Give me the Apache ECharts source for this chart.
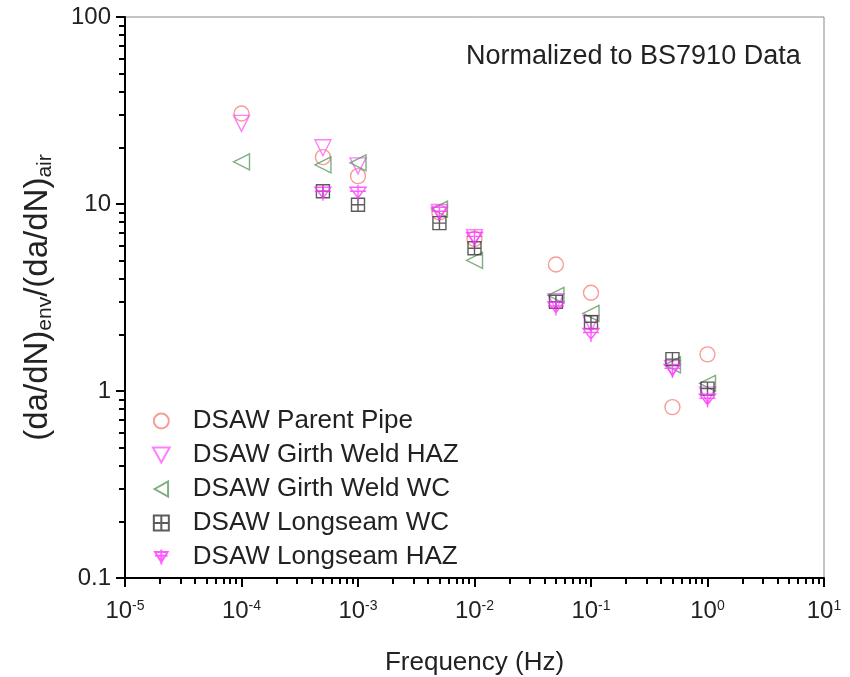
<!DOCTYPE html>
<html>
<head>
<meta charset="utf-8">
<script src="https://cdn.jsdelivr.net/npm/echarts@6/dist/echarts.min.js"></script>
<style>html,body{margin:0;padding:0;background:#fff;}#c{width:850px;height:677px;}</style>
</head>
<body>
<div id="c"></div>
<script>
// ---- data ----
const seriesNames = ['DSAW Parent Pipe', 'DSAW Girth Weld HAZ', 'DSAW Girth Weld WC', 'DSAW Longseam WC', 'DSAW Longseam HAZ'];
const parentPipeFreq = [1e-4, 5e-4, 1e-3, 5e-3, 1e-2, 5e-2, 1e-1, 5e-1, 1];
const parentPipeVal  = [30.5, 17.8, 14.1, 9.0, 6.5, 4.75, 3.35, 0.82, 1.57];
const girthHazFreq = [1e-4, 5e-4, 1e-3, 5e-3, 1e-2, 5e-2, 1e-1, 5e-1, 1];
const girthHazVal  = [27.0, 20.0, 16.0, 9.0, 6.6, 3.0, 2.3, 1.32, 0.95];
const girthWcFreq = [1e-4, 5e-4, 1e-3, 5e-3, 1e-2, 5e-2, 1e-1, 5e-1, 1];
const girthWcVal  = [16.8, 16.2, 16.6, 9.4, 5.0, 3.25, 2.6, 1.38, 1.1];
const longWcFreq = [5e-4, 1e-3, 5e-3, 1e-2, 5e-2, 1e-1, 5e-1, 1];
const longWcVal  = [11.7, 9.9, 7.9, 5.8, 3.0, 2.33, 1.48, 1.03];
const longHazFreq = [5e-4, 1e-3, 5e-3, 1e-2, 5e-2, 1e-1, 5e-1, 1];
const longHazVal  = [11.5, 11.5, 9.0, 6.6, 2.8, 2.02, 1.3, 0.9];
const xMin = 1e-5, xMax = 10, yMin = 0.1, yMax = 100;

function pairs(f, v) { return f.map((x, i) => [x, v[i]]); }

const FONT = '"Liberation Sans", Arial, sans-serif';
const symCircle = 'circle';
const symDown = 'path://M0,0 L10,0 L5,9 Z';
const symLeft = 'path://M0,5 L9,0 L9,10 Z';
const symBoxPlus = 'path://M0,0 L10,0 L10,10 L0,10 Z M5,0 L5,10 M0,5 L10,5';
const symTriPlus = 'path://M0,2 L10,2 L5,10 Z M5,0 L5,12 M0,5 L10,5';

const styles = [
  { sym: symCircle, color: '#f2857c', size: 15 },
  { sym: symDown, color: '#ff5cff', size: 16 },
  { sym: symLeft, color: '#5f9a62', size: 16 },
  { sym: symBoxPlus, color: '#333333', size: 13 },
  { sym: symTriPlus, color: '#ff33ff', size: 16 }
];
const dataSets = [
  pairs(parentPipeFreq, parentPipeVal),
  pairs(girthHazFreq, girthHazVal),
  pairs(girthWcFreq, girthWcVal),
  pairs(longWcFreq, longWcVal),
  pairs(longHazFreq, longHazVal)
];

const series = dataSets.map((d, i) => ({
  name: seriesNames[i],
  type: 'scatter',
  data: d,
  symbol: styles[i].sym,
  symbolSize: styles[i].size,
  itemStyle: { color: 'rgba(0,0,0,0)', borderColor: styles[i].color, borderWidth: 1.4 },
  emphasis: { disabled: true }
}));

const chart = echarts.init(document.getElementById('c'), null, { renderer: 'canvas' });
chart.setOption({
  animation: false,
  backgroundColor: '#fff',
  title: {
    text: 'Normalized to BS7910 Data',
    left: 461, top: 38,
    textStyle: { fontFamily: FONT, fontSize: 27, fontWeight: 'normal', color: '#222' }
  },
  grid: { left: 125, right: 26, top: 17, bottom: 99, show: true, borderColor: '#888', borderWidth: 1, outerBoundsMode: 'none', containLabel: false },
  legend: {
    orient: 'vertical', left: 147, top: 403,
    itemWidth: 53, itemHeight: 15, itemGap: 8,
    textStyle: { fontFamily: FONT, fontSize: 26, color: '#222' },
    data: seriesNames
  },
  xAxis: {
    type: 'log', logBase: 10, min: xMin, max: xMax,
    name: 'Frequency (Hz)', nameLocation: 'middle', nameGap: 72,
    nameTextStyle: { fontFamily: FONT, fontSize: 26, color: '#222' },
    axisLine: { show: true, lineStyle: { color: '#000', width: 2 } },
    axisTick: { show: true, inside: false, length: 9, lineStyle: { color: '#000', width: 2 } },
    minorTick: { show: true, splitNumber: 9, length: 6, lineStyle: { color: '#000', width: 2 } },
    splitLine: { show: false },
    axisLabel: {
      margin: 21,
      formatter: function (v) { return '10{sup|' + Math.round(Math.log10(v)) + '}'; },
      fontFamily: FONT, fontSize: 24, color: '#222',
      rich: { sup: { fontSize: 14, verticalAlign: 'bottom', padding: [0, 0, 11, 0], fontFamily: FONT, color: '#222' } }
    }
  },
  yAxis: {
    type: 'log', logBase: 10, min: yMin, max: yMax,
    name: '(da/dN){sub|env}/(da/dN){sub|air}', nameLocation: 'middle', nameGap: 69, nameRotate: 90,
    nameTextStyle: {
      fontFamily: FONT, fontSize: 33, color: '#222',
      rich: { sub: { fontSize: 21, verticalAlign: 'top', padding: [15, 0, 0, 0], fontFamily: FONT, color: '#222' } }
    },
    axisLine: { show: true, lineStyle: { color: '#000', width: 2 } },
    axisTick: { show: true, inside: false, length: 9, lineStyle: { color: '#000', width: 2 } },
    minorTick: { show: true, splitNumber: 9, length: 6, lineStyle: { color: '#000', width: 2 } },
    splitLine: { show: false },
    axisLabel: {
      margin: 14,
      formatter: function (v) { return String(v); },
      fontFamily: FONT, fontSize: 24, color: '#222'
    }
  },
  series: series
});
</script>
</body>
</html>
